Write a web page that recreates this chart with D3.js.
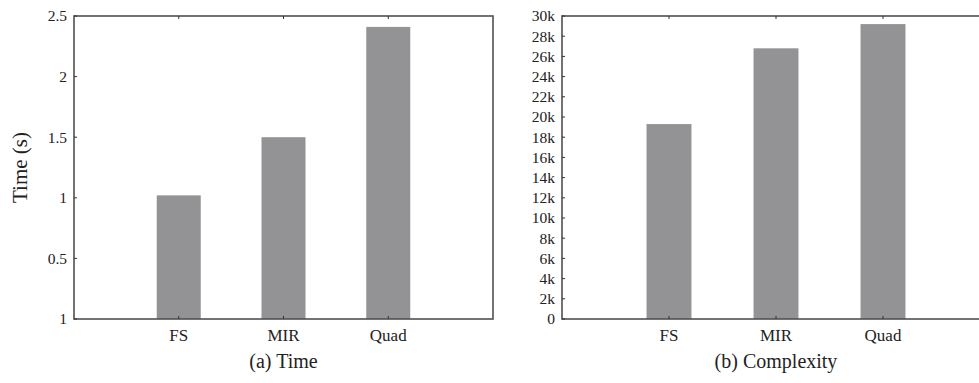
<!DOCTYPE html>
<html>
<head>
<meta charset="utf-8">
<script src="https://cdn.jsdelivr.net/npm/d3@7"></script>
<style>
  html, body { margin: 0; padding: 0; background: #fff; overflow: hidden; }
  text { font-family: "Liberation Serif", "Times New Roman", serif; fill: #222; }
</style>
</head>
<body>
<div id="root"></div>
<script>
const width = 979;
const height = 383;

const categories = ["FS", "MIR", "Quad"];
const timeValues = [1.02, 1.5, 2.41];
const complexityValues = [19300, 26800, 29200];

const timeTicks = [0, 0.5, 1, 1.5, 2, 2.5];
const timeTickLabels = ["1", "0.5", "1", "1.5", "2", "2.5"];
const complexityTicks = d3.range(0, 30001, 2000);
const complexityTickLabels = ["0", "2k", "4k", "6k", "8k", "10k", "12k", "14k", "16k", "18k", "20k", "22k", "24k", "26k", "28k", "30k"];

const svg = d3
  .select("#root")
  .append("svg")
  .attr("width", width)
  .attr("height", height);

function panel(opts) {
  const { left, right, top, bottom, values, ymax, ticks, tickLabels, caption, ylabel } = opts;

  const x = d3.scaleLinear().domain([0, categories.length + 1]).range([left, right]);
  const y = d3.scaleLinear().domain([0, ymax]).range([bottom, top]);
  const slot = x(1) - x(0);
  const barW = slot * 0.42;

  const g = svg.append("g");

  // bars
  g.selectAll(".bar")
    .data(values)
    .enter()
    .append("rect")
    .attr("class", "bar")
    .attr("x", (d, i) => x(i + 1) - barW / 2)
    .attr("y", (d) => y(d))
    .attr("width", barW)
    .attr("height", (d) => y(0) - y(d))
    .attr("fill", "#939396");

  // frame
  g.append("rect")
    .attr("x", left)
    .attr("y", top)
    .attr("width", right - left)
    .attr("height", bottom - top)
    .attr("fill", "none")
    .attr("stroke", "#505050")
    .attr("stroke-width", 1.6);

  // y ticks (inward)
  g.selectAll(".ytick")
    .data(ticks)
    .enter()
    .append("line")
    .attr("x1", left)
    .attr("x2", left + 3)
    .attr("y1", (d) => y(d))
    .attr("y2", (d) => y(d))
    .attr("stroke", "#333");

  g.selectAll(".ylab")
    .data(ticks)
    .enter()
    .append("text")
    .attr("x", left - 7)
    .attr("y", (d) => y(d))
    .attr("dy", "0.35em")
    .attr("text-anchor", "end")
    .attr("font-size", 15.5)
    .text((d, i) => tickLabels[i]);

  // x ticks top and bottom (inward)
  categories.forEach((c, i) => {
    g.append("line")
      .attr("x1", x(i + 1)).attr("x2", x(i + 1))
      .attr("y1", top).attr("y2", top + 3)
      .attr("stroke", "#333");
    g.append("line")
      .attr("x1", x(i + 1)).attr("x2", x(i + 1))
      .attr("y1", bottom).attr("y2", bottom - 3)
      .attr("stroke", "#333");
    g.append("text")
      .attr("x", x(i + 1))
      .attr("y", bottom + 22)
      .attr("text-anchor", "middle")
      .attr("font-size", 17)
      .text(c);
  });

  g.append("text")
    .attr("x", (left + right) / 2)
    .attr("y", bottom + 49)
    .attr("text-anchor", "middle")
    .attr("font-size", 20)
    .text(caption);

  if (ylabel) {
    g.append("text")
      .attr("transform", `translate(27, ${(top + bottom) / 2}) rotate(-90)`)
      .attr("text-anchor", "middle")
      .attr("font-size", 21)
      .text(ylabel);
  }
}

panel({
  left: 74, right: 493, top: 16, bottom: 319,
  values: timeValues, ymax: 2.5,
  ticks: timeTicks, tickLabels: timeTickLabels,
  caption: "(a) Time", ylabel: "Time (s)"
});

panel({
  left: 562, right: 990, top: 16, bottom: 319,
  values: complexityValues, ymax: 30000,
  ticks: complexityTicks, tickLabels: complexityTickLabels,
  caption: "(b) Complexity"
});
</script>
</body>
</html>
